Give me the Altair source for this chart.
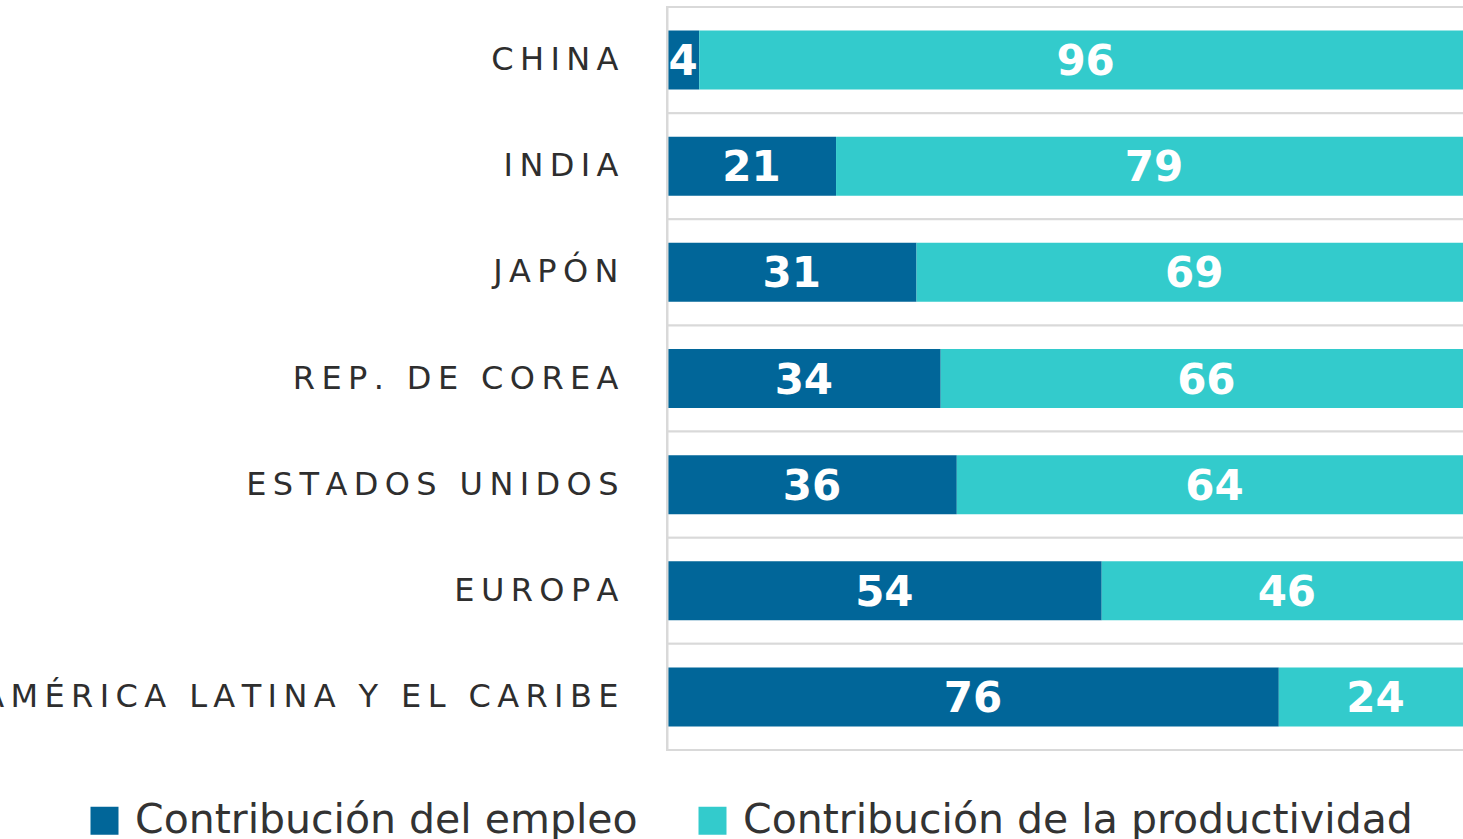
import altair as alt
import pandas as pd

paises = ["CHINA", "INDIA", "JAPÓN", "REP. DE COREA", "ESTADOS UNIDOS", "EUROPA",
          "AMÉRICA LATINA Y EL CARIBE"]
empleo = [4, 21, 31, 34, 36, 54, 76]
productividad = [96, 79, 69, 66, 64, 46, 24]
series = ["Contribución del empleo", "Contribución de la productividad"]
colores = ["#016699", "#33CBCC"]

rows = []
for i, p in enumerate(paises):
    rows.append({"pais": p, "serie": series[0], "valor": empleo[i], "orden": 0})
    rows.append({"pais": p, "serie": series[1], "valor": productividad[i], "orden": 1})
df = pd.DataFrame(rows)

spacing_expr = "join(split(datum.label, ''), '\u2009')"

y_scale = alt.Scale(paddingInner=0, paddingOuter=0)
y_axis = alt.Axis(
    labelExpr=spacing_expr,
    labelFont="DejaVu Sans",
    labelFontSize=32,
    labelColor="#2e2e2e",
    labelPadding=49,
    labelLimit=0,
    ticks=False,
    domain=True,
    domainColor="#d9d9d9",
    domainWidth=2,
    grid=False,
)
y_enc = alt.Y("pais:N", sort=paises, scale=y_scale, axis=y_axis, title=None)
x_scale = alt.Scale(domain=[0, 100], nice=False)

# background cells: outline of each category row gives the light grey separators
cells = alt.Chart(df).transform_filter("datum.orden == 0").mark_rect(
    fill="white", stroke="#d9d9d9", strokeWidth=2
).encode(
    y=y_enc,
    x=alt.datum(0, scale=x_scale, axis=None),
    x2=alt.datum(100),
)

base = alt.Chart(df).transform_stack(
    stack="valor", groupby=["pais"], sort=[alt.SortField("orden")], as_=["x0", "x1"]
).transform_calculate(mid="(datum.x0 + datum.x1) / 2")

bars = base.mark_bar(size=59).encode(
    y=y_enc,
    x=alt.X("x0:Q", scale=x_scale, axis=None),
    x2="x1:Q",
    color=alt.Color(
        "serie:N",
        scale=alt.Scale(domain=series, range=colores),
        legend=alt.Legend(
            title=None,
            orient="none",
            legendX=-583,
            legendY=793,
            direction="horizontal",
            symbolType="square",
            symbolSize=784,
            symbolStrokeWidth=0,
            labelFont="DejaVu Sans",
            labelFontSize=41,
            labelColor="#333333",
            labelOffset=10,
            labelLimit=0,
            columnPadding=54,
        ),
    ),
)

text = base.mark_text(
    font="DejaVu Sans", fontWeight="bold", fontSize=42, color="white", dy=2
).encode(
    y=y_enc,
    x=alt.X("mid:Q", scale=x_scale, axis=None),
    text=alt.Text("valor:Q"),
)

chart = alt.layer(cells, bars, text).properties(
    width=805,
    height=743,
    autosize=alt.AutoSizeParams(type="none"),
    padding={"left": 667, "top": 7, "right": -9, "bottom": 89},
    background="white",
).configure_view(stroke=None)

chart.save("out.html", embed_options={"renderer": "svg", "actions": False})
